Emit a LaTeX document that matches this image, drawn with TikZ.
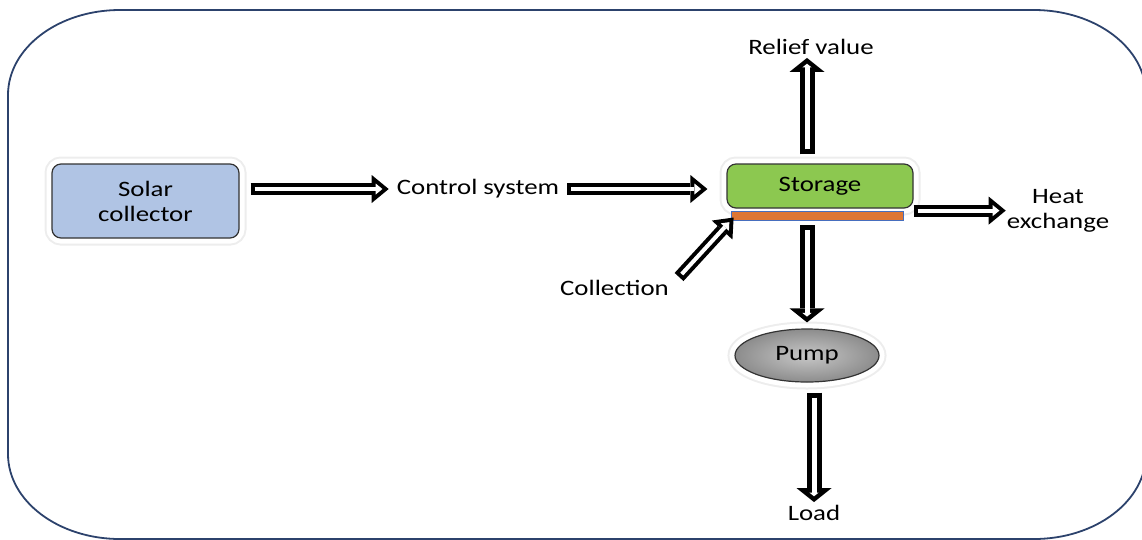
\documentclass[tikz,border=0pt]{standalone}
\usepackage{fontspec}
\setmainfont{Carlito}[FakeStretch=1.22]
\usetikzlibrary{arrows.meta,shapes.geometric}
\definecolor{framecol}{RGB}{44,66,108}
\definecolor{solarblue}{RGB}{176,196,228}
\definecolor{storegreen}{RGB}{140,200,80}
\definecolor{plateorange}{RGB}{222,118,52}
\definecolor{plateblue}{RGB}{70,110,190}
\tikzset{
    glow/.style={preaction={draw=black!7, line width=15pt},
                 preaction={draw=white, line width=11pt}},
    box/.style={glow, draw=black!80, line width=1.2pt, rounded corners=9pt,
                align=center, inner sep=0pt},
    txt/.style={inner sep=0pt, align=center},
    harrow/.style={line width=12pt, -{Triangle[length=17pt,width=28pt,line width=0pt]},
        postaction={draw=white, line width=4pt, shorten <=4pt, shorten >=6.3pt,
                    -{Triangle[length=6.7pt,width=11pt,line width=0pt]}}},
    varrow/.style={line width=15pt, -{Triangle[length=14pt,width=35pt,line width=0pt]},
        postaction={draw=white, line width=5pt, shorten <=5pt, shorten >=5.8pt,
                    -{Triangle[length=3.7pt,width=9.3pt,line width=0pt]}}}
}
\begin{document}
\begin{tikzpicture}[x=1pt, y=-1pt, font=\fontsize{22}{25}\selectfont]
    \useasboundingbox (0,0) rectangle (1142,539);
    % Draw frame
    \draw[framecol, line width=1.8pt] (120,10) -- (1034,10)
        arc[start angle=-90, end angle=0, x radius=112, y radius=85] -- (1146,454)
        arc[start angle=0, end angle=90, x radius=112, y radius=85] -- (120,539)
        arc[start angle=90, end angle=180, x radius=112, y radius=85] -- (8,95)
        arc[start angle=180, end angle=270, x radius=112, y radius=85] -- cycle;
    % Draw blocks
    \node[box, fill=solarblue, minimum width=187pt, minimum height=74pt] (solar) at (145.5,201) {Solar\\collector};
    \node[box, fill=storegreen, minimum width=186pt, minimum height=44pt] (storage) at (820,186) {Storage};
    \node[draw=plateblue, fill=plateorange, line width=0.8pt, minimum width=172pt,
          minimum height=9pt, inner sep=0pt] (plate) at (817,215.5) {};
    \node[glow, ellipse, draw=black!80, line width=1.2pt, inner color=black!22, outer color=black!45,
          minimum width=144pt, minimum height=53pt, inner sep=0pt] (pump) at (807,355.5) {Pump};
    % Draw labels
    \node[txt] (ctrl) at (478,189) {Control system};
    \node[txt] (relief) at (811,47) {Relief value};
    \node[txt] (heat) at (1058,211) {Heat\\exchange};
    \node[txt] (collect) at (614.5,288) {Collection};
    \node[txt] (load) at (814,513) {Load};
    % Draw flows
    \draw[harrow] ([xshift=11pt]solar.east |- ctrl.west) -- ([xshift=-8pt]ctrl.west);
    \draw[harrow] ([xshift=8pt]ctrl.east) -- ([xshift=-19pt]storage.west |- ctrl.east);
    \draw[harrow] (storage.east |- plate.north) -- ([xshift=-1pt]heat.west |- plate.north);
    \draw[harrow] ([shift={(10,-11)}]collect.east) -- ([shift={(3,2)}]plate.west);
    \draw[varrow] ([yshift=9pt]storage.north -| pump.center) -- ([yshift=-3pt]relief.south -| pump.center);
    \draw[varrow] ([yshift=-5pt]plate.south -| pump.center) -- ([yshift=6pt]pump.north);
    \draw[varrow] ([yshift=-10pt]pump.south -| load.center) -- ([yshift=3pt]load.north);
\end{tikzpicture}
\end{document}
